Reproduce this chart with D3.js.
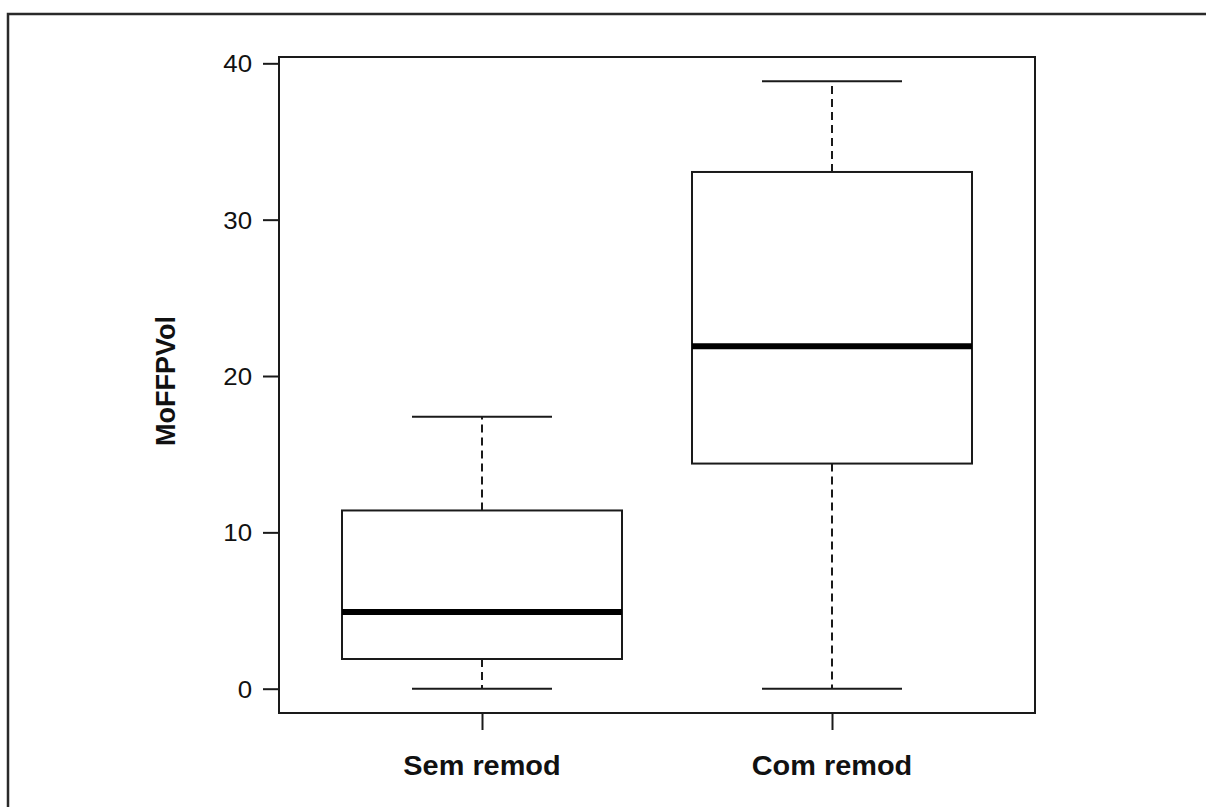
<!DOCTYPE html>
<html>
<head>
<meta charset="utf-8">
<script src="https://cdn.jsdelivr.net/npm/d3@7"></script>
<style>
  html, body { margin: 0; padding: 0; background: #fff; }
  svg { display: block; }
  text { font-family: "Liberation Sans", Arial, Helvetica, sans-serif; fill: #111; }
</style>
</head>
<body>
<svg id="chart" width="1206" height="807"></svg>
<script>
// Five-number summaries per group
const categories = ["Sem remod", "Com remod"];
const whiskerLow  = [0, 0];
const boxLow      = [1.9, 14.4];
const medians     = [4.9, 21.9];
const boxHigh     = [11.4, 33.05];
const whiskerHigh = [17.4, 38.85];
const yTicks = [0, 10, 20, 30, 40];
const yTitle = "MoFFPVol";

const svg = d3.select("#chart");
const ink = "#1a1a1a";

// Plot region
const plotLeft = 279, plotRight = 1035, plotTop = 57, plotBottom = 713;

// y-range padded by 4% on each side
const lo = d3.min(whiskerLow), hi = d3.max(whiskerHigh);
const pad = (hi - lo) * 0.04;
const y = d3.scaleLinear().domain([lo - pad, hi + pad]).range([plotBottom, plotTop]);

// x positions 1..n with the usual half-unit margin, padded by 4%
const n = categories.length;
const xr = [0.5, n + 0.5];
const xpad = (xr[1] - xr[0]) * 0.04;
const x = d3.scaleLinear().domain([xr[0] - xpad, xr[1] + xpad]).range([plotLeft, plotRight]);

const boxW = 0.8, capW = 0.4;

// Outer frame
svg.append("rect")
  .attr("x", 8).attr("y", 14).attr("width", 1400).attr("height", 1000)
  .attr("fill", "none").attr("stroke", "#2a2a2a").attr("stroke-width", 2.5);

const g = svg.append("g");

categories.forEach((c, i) => {
  const cx = x(i + 1);
  const grp = g.append("g");
  // whiskers (dashed)
  grp.append("line")
    .attr("x1", cx).attr("x2", cx)
    .attr("y1", y(boxHigh[i])).attr("y2", y(whiskerHigh[i]))
    .attr("stroke", ink).attr("stroke-width", 2).attr("stroke-dasharray", "8,5");
  grp.append("line")
    .attr("x1", cx).attr("x2", cx)
    .attr("y1", y(boxLow[i])).attr("y2", y(whiskerLow[i]))
    .attr("stroke", ink).attr("stroke-width", 2).attr("stroke-dasharray", "8,5");
  // caps
  [whiskerHigh[i], whiskerLow[i]].forEach(v => {
    grp.append("line")
      .attr("x1", x(i + 1 - capW / 2)).attr("x2", x(i + 1 + capW / 2))
      .attr("y1", y(v)).attr("y2", y(v))
      .attr("stroke", ink).attr("stroke-width", 2);
  });
  // box
  grp.append("rect")
    .attr("x", x(i + 1 - boxW / 2))
    .attr("y", y(boxHigh[i]))
    .attr("width", x(i + 1 + boxW / 2) - x(i + 1 - boxW / 2))
    .attr("height", y(boxLow[i]) - y(boxHigh[i]))
    .attr("fill", "#fff").attr("stroke", ink).attr("stroke-width", 2);
  // median
  grp.append("line")
    .attr("x1", x(i + 1 - boxW / 2)).attr("x2", x(i + 1 + boxW / 2))
    .attr("y1", y(medians[i])).attr("y2", y(medians[i]))
    .attr("stroke", "#000").attr("stroke-width", 6);
});

// Plot frame
svg.append("rect")
  .attr("x", plotLeft).attr("y", plotTop)
  .attr("width", plotRight - plotLeft).attr("height", plotBottom - plotTop)
  .attr("fill", "none").attr("stroke", ink).attr("stroke-width", 2);

// y axis
const yAxis = svg.append("g")
  .attr("transform", `translate(${plotLeft},0)`)
  .call(d3.axisLeft(y).tickValues(yTicks).tickSize(16).tickFormat(d3.format("d")));
yAxis.select(".domain").remove();
yAxis.selectAll(".tick line").attr("stroke", ink).attr("stroke-width", 2);
yAxis.selectAll(".tick text")
  .attr("font-size", 23.5)
  .attr("fill", "#111")
  .attr("x", -27 / 1.1)
  .attr("dy", "0.36em")
  .attr("transform", "scale(1.1,1)");

// x axis
const xAxis = svg.append("g")
  .attr("transform", `translate(0,${plotBottom})`)
  .call(d3.axisBottom(x).tickValues(d3.range(1, n + 1)).tickSize(17).tickFormat(""));
xAxis.select(".domain").remove();
xAxis.selectAll(".tick line").attr("stroke", ink).attr("stroke-width", 2);

// category labels
svg.selectAll("text.cat")
  .data(categories)
  .join("text")
  .attr("class", "cat")
  .attr("transform", (d, i) => `translate(${x(i + 1)},775) scale(1.07,1)`)
  .attr("text-anchor", "middle")
  .attr("font-size", 27)
  .attr("font-weight", "bold")
  .text(d => d);

// y title
svg.append("text")
  .attr("transform", `translate(175,${(plotTop + plotBottom) / 2 - 4}) rotate(-90)`)
  .attr("text-anchor", "middle")
  .attr("font-size", 27)
  .attr("font-weight", "bold")
  .text(yTitle);
</script>
</body>
</html>
